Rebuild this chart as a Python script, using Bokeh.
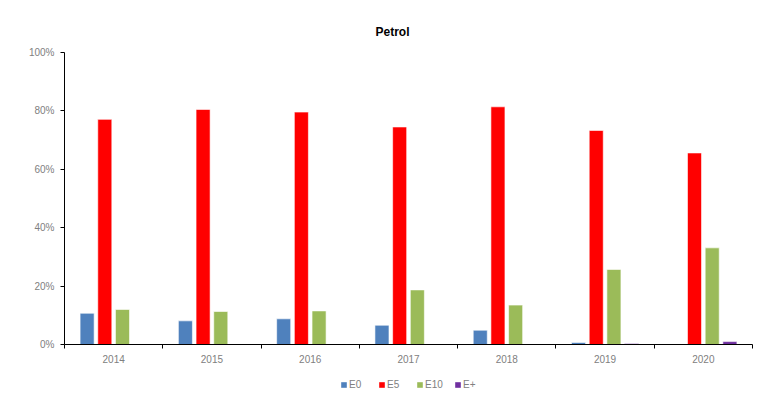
from bokeh.plotting import figure
from bokeh.layouts import column
from bokeh.models import (ColumnDataSource, Range1d, LinearAxis, FixedTicker,
                          PrintfTickFormatter, Legend, LegendItem, Title)
from bokeh.transform import dodge
from bokeh.embed import file_html
from bokeh.resources import INLINE

# Share of petrol grades per year (%)
years = ["2014", "2015", "2016", "2017", "2018", "2019", "2020"]
e0 = [10.7, 8.1, 8.8, 6.6, 4.9, 0.7, 0.0]
e5 = [77.1, 80.5, 79.6, 74.5, 81.4, 73.3, 65.6]
e10 = [12.0, 11.3, 11.5, 18.7, 13.5, 25.7, 33.1]
eplus = [0.0, 0.0, 0.0, 0.0, 0.0, 0.3, 1.0]

series = [("E0", "E0", "#4f81bd", -0.27),
          ("E5", "E5", "#ff0000", -0.09),
          ("E10", "E10", "#9bbb59", 0.09),
          ("E+", "Eplus", "#7030a0", 0.27)]

# each year occupies one unit slot; its group is centred in the slot
centers = [i + 0.5 for i in range(len(years))]
edges = list(range(len(years) + 1))
src = ColumnDataSource(dict(pos=centers, year=years, E0=e0, E5=e5, E10=e10, Eplus=eplus))

FONT = "Liberation Sans"
GREY = "#808080"

p = figure(width=767, height=372, x_range=Range1d(0, len(years)),
           y_range=Range1d(0, 100), output_backend="svg", toolbar_location=None,
           x_axis_location=None, y_axis_location=None,
           min_border_left=64, min_border_right=15, min_border_top=52, min_border_bottom=28)
p.outline_line_color = None
p.xgrid.visible = False
p.ygrid.visible = False
p.background_fill_color = "white"
p.border_fill_color = "white"

p.title = Title(text="Petrol", align="left", offset=311, standoff=28,
                text_font=FONT, text_font_size="12px", text_font_style="bold", text_color="black")

# y axis with percentage labels
yax = LinearAxis(ticker=FixedTicker(ticks=[0, 20, 40, 60, 80, 100]),
                 formatter=PrintfTickFormatter(format="%d%%"))
yax.axis_line_color = "black"
yax.major_tick_line_color = "black"
yax.major_tick_in = 0
yax.major_tick_out = 4
yax.minor_tick_line_color = None
yax.major_label_text_font = FONT
yax.major_label_text_font_size = "10px"
yax.major_label_text_color = GREY
yax.major_label_standoff = 6
p.add_layout(yax, "left")

# tick marks between year groups
edge_ax = LinearAxis(ticker=FixedTicker(ticks=edges),
                     major_label_overrides={e: "" for e in edges})
edge_ax.axis_line_color = "black"
edge_ax.major_tick_line_color = "black"
edge_ax.major_tick_in = 0
edge_ax.major_tick_out = 4
edge_ax.minor_tick_line_color = None
edge_ax.major_label_standoff = 0
p.add_layout(edge_ax, "below")

# year names centred under each group
xax = LinearAxis(ticker=FixedTicker(ticks=centers),
                 major_label_overrides={c: y for c, y in zip(centers, years)})
xax.axis_line_color = None
xax.major_tick_line_color = None
xax.minor_tick_line_color = None
xax.major_label_text_font = FONT
xax.major_label_text_font_size = "10px"
xax.major_label_text_color = GREY
xax.major_label_standoff = 0
p.add_layout(xax, "below")

for name, col, color, off in series:
    p.vbar(x=dodge("pos", off), top=col, width=0.143, source=src,
           fill_color=color, line_color="white", line_alpha=0.6, line_width=1)

# legend strip under the chart; its series sit outside the strip's visible y range
lg = figure(width=767, height=27, x_range=Range1d(0, len(years)), y_range=Range1d(200, 201),
            output_backend="svg", toolbar_location=None, x_axis_location=None,
            y_axis_location=None, min_border=0)
lg.outline_line_color = None
lg.xgrid.visible = False
lg.ygrid.visible = False
items = []
for name, col, color, off in series:
    r = lg.vbar(x=dodge("pos", off), top=col, width=0.143, source=src,
                fill_color=color, line_color=None)
    items.append(LegendItem(label=name, renderers=[r]))
legend = Legend(items=items, orientation="horizontal", location=(276, 9),
                glyph_width=7, glyph_height=7, label_height=10, label_text_font=FONT,
                label_text_font_size="10px", label_text_color=GREY, label_standoff=2,
                spacing=9, padding=2, margin=0, border_line_color=None,
                background_fill_alpha=0)
lg.add_layout(legend)

open("out.html", "w").write(file_html(column(p, lg, spacing=0), INLINE))
